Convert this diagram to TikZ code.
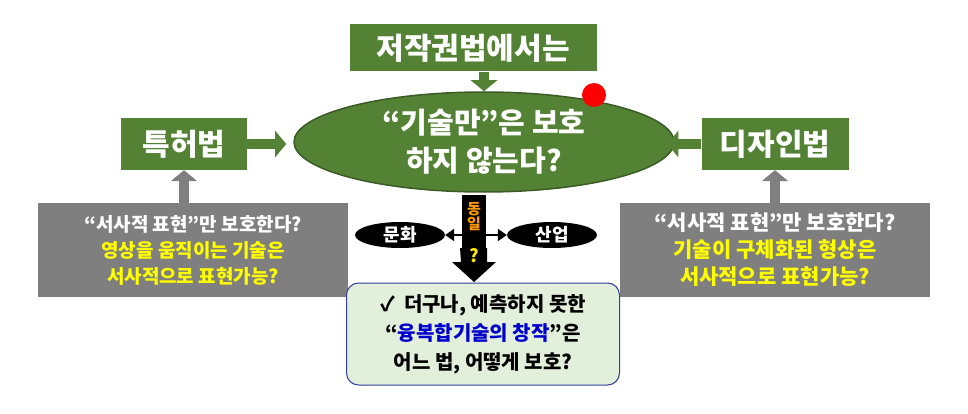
\documentclass[tikz,border=0pt]{standalone}
\usepackage{fontspec}
\setmainfont{Noto Sans CJK KR}[BoldFont={* Black}]
\usepackage{tikz}
\usetikzlibrary{arrows.meta,positioning,shapes.geometric}
\definecolor{lawgreen}{HTML}{548235}
\definecolor{boxgray}{HTML}{7F7F7F}
\definecolor{notegreen}{HTML}{E2EFDA}
\definecolor{noteblue}{HTML}{2F3F9F}
\definecolor{textyellow}{HTML}{FFFF00}
\tikzset{
  lawbox/.style={fill=lawgreen,text=white,font=\bfseries\fontsize{30}{32}\selectfont,inner sep=0pt},
  askbox/.style={fill=boxgray,text=white,font=\bfseries\fontsize{19}{26}\selectfont,align=center,inner sep=0pt},
  fieldoval/.style={ellipse,fill=black,text=white,font=\bfseries\fontsize{18}{20}\selectfont,minimum width=90pt,minimum height=26pt,inner sep=0pt},
  grayarrow/.style={draw=boxgray,line width=10pt,-{Triangle[length=11pt,width=26pt]}},
  greenarrow/.style={draw=lawgreen,line width=10pt,-{Triangle[length=11pt,width=26pt]}}
}
\begin{document}
\begin{tikzpicture}[x=1pt,y=-1pt]
\useasboundingbox (0,0) rectangle (968,414);
% green law boxes
\node[lawbox,minimum width=247pt,minimum height=47pt] (copy) at (473,48) {저작권법에서는};
\node[lawbox,minimum width=126pt,minimum height=52pt] (patent) at (184,144) {특허법};
\node[lawbox,minimum width=147pt,minimum height=52pt] (design) at (775,144) {디자인법};
\node[ellipse,fill=lawgreen,draw=lawgreen!70!black,line width=1.5pt,text=white,align=center,
  font=\bfseries\fontsize{29}{38}\selectfont,minimum width=380pt,minimum height=100pt,inner sep=0pt]
  (core) at (484,142) {“기술만”은 보호\\하지 않는다?};
\fill[red] (594,95) circle (12);
% gray question boxes
\node[askbox,minimum width=310pt,minimum height=94pt] (leftq) at (193,250)
  {“서사적 표현”만 보호한다?\\\textcolor{textyellow}{영상을 움직이는 기술은}\\\textcolor{textyellow}{서사적으로 표현가능?}};
\node[askbox,minimum width=310pt,minimum height=94pt,font=\bfseries\fontsize{21}{27}\selectfont] (rightq) at (775,250)
  {“서사적 표현”만 보호한다?\\\textcolor{textyellow}{기술이 구체화된 형상은}\\\textcolor{textyellow}{서사적으로 표현가능?}};
% bottom note
\node[draw=noteblue,fill=notegreen,rounded corners=12pt,line width=1pt,align=center,
  font=\bfseries\fontsize{20}{29}\selectfont,minimum width=273pt,minimum height=102pt,inner sep=0pt]
  (note) at (483,334) {✓\ \ 더구나, 예측하지 못한\\“\textcolor{blue!80!black}{융복합기술의 창작}”은\\어느 법, 어떻게 보호?};
% arrows between boxes
\draw[grayarrow] (leftq.north -| patent) -- (patent.south);
\draw[grayarrow] (rightq.north -| design) -- (design.south);
\draw[greenarrow] (patent.east) -- ++(39,0);
\draw[greenarrow] (design.west) -- ++(-34,0);
\draw[greenarrow] (copy.south -| core) -- (core.north);
% culture / industry
\node[fieldoval] (culture) at (400,235) {문화};
\node[fieldoval] (industry) at (552,235) {산업};
\coordinate (split) at (474,195);
\draw[line width=24pt] (split) -- ++(0,55);
\draw[line width=2pt,{Triangle[length=9pt,width=12pt]}-{Triangle[length=9pt,width=12pt]}] (culture.east) -- (industry.west);
\fill (460,248) -- (461,262) -- (452,262) -- (474,282) -- (496,262) -- (487,262) -- (487,248) -- cycle;
\node[text=orange!80!yellow,font=\bfseries\fontsize{15}{16}\selectfont,align=center,inner sep=0pt] (same) at (474,217) {동\\[-1pt]일};
\node[text=yellow!90!orange,font=\bfseries\fontsize{18}{18}\selectfont,inner sep=0pt] (query) at (474,256) {?};
\end{tikzpicture}
\end{document}
